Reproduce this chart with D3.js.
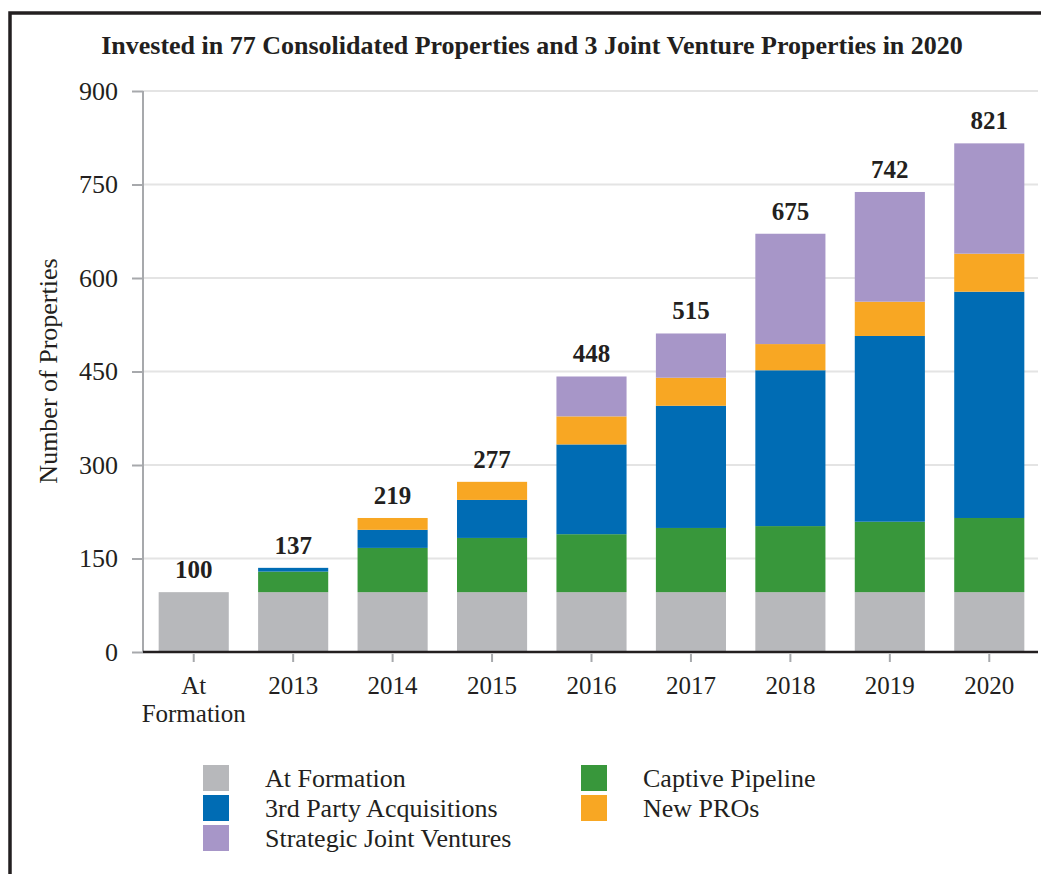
<!DOCTYPE html>
<html><head><meta charset="utf-8">
<script src="https://cdn.jsdelivr.net/npm/d3@7"></script>
<style>
body{margin:0;background:#fff;}
svg{display:block;font-family:"Liberation Serif","Times New Roman",serif;}
</style></head>
<body><svg id="c" width="1041" height="874"></svg>
<script>
const categories = ["At Formation","2013","2014","2015","2016","2017","2018","2019","2020"];
const seriesNames = ["At Formation","Captive Pipeline","3rd Party Acquisitions","New PROs","Strategic Joint Ventures"];
const atFormation = [96,96,96,96,96,96,96,96,96];
const captivePipeline = [0,33,71,87,93,103,106,113,119];
const thirdParty = [0,6,29,61,144,196,250,298,363];
const newPROs = [0,0,19,29,45,45,42,55,61];
const strategicJV = [0,0,0,0,64,71,177,176,177];
const totals = [100,137,219,277,448,515,675,742,821];
const yTicks = [0,150,300,450,600,750,900];
const colors = ["#b7b8bb","#38973b","#006cb4","#f8a723","#a796c8"];
const legendOrder = [[0,0],[2,0],[4,0],[1,1],[3,1]]; // [series index, column]

const svg = d3.select("#c");
const seriesData = [atFormation,captivePipeline,thirdParty,newPROs,strategicJV];
const rows = categories.map((c,i)=>{const o={cat:c};seriesNames.forEach((s,j)=>o[s]=seriesData[j][i]);return o;});

const x = d3.scaleBand().domain(categories).range([144,1039]).paddingInner(0.295).paddingOuter(0.1475);
const y = d3.scaleLinear().domain([0,900]).range([652,91]);

// border
svg.append("path").attr("d","M10,874V13H1041").attr("fill","none").attr("stroke","#231f20").attr("stroke-width",3.5);

// title
svg.append("text").attr("x",532).attr("y",54).attr("text-anchor","middle")
  .attr("font-weight","bold").attr("font-size",26).attr("fill","#231f20")
  .text("Invested in 77 Consolidated Properties and 3 Joint Venture Properties in 2020");

// gridlines
svg.append("g").selectAll("line").data(yTicks.filter(d=>d>0)).join("line")
  .attr("x1",143).attr("x2",1038).attr("y1",d=>y(d)).attr("y2",d=>y(d))
  .attr("stroke","#e4e4e4").attr("stroke-width",2);

// y axis
const gy = svg.append("g").attr("transform","translate(143,0)")
  .call(d3.axisLeft(y).tickValues(yTicks).tickSize(11).tickPadding(14).tickFormat(d3.format("d")));
gy.select(".domain").attr("stroke","#a7a9ac").attr("stroke-width",2).attr("d","M-0,"+y(900)+"V"+y(0));
gy.selectAll(".tick line").attr("stroke","#a7a9ac").attr("stroke-width",2);
gy.selectAll(".tick text").attr("font-size",26).attr("fill","#231f20").attr("font-family","Liberation Serif, serif");

// bars
const stack = d3.stack().keys(seriesNames)(rows);
svg.append("g").selectAll("g").data(stack).join("g").attr("fill",(d,i)=>colors[i])
  .selectAll("rect").data(d=>d).join("rect")
  .attr("x",d=>x(d.data.cat)).attr("width",x.bandwidth())
  .attr("y",d=>y(d[1])).attr("height",d=>y(d[0])-y(d[1]));

// x axis
const gx = svg.append("g").attr("transform","translate(0,"+y(0)+")")
  .call(d3.axisBottom(x).tickSize(10).tickFormat(""));
gx.select(".domain").attr("stroke","#231f20").attr("stroke-width",2.5).attr("d","M143,0H1038");
gx.selectAll(".tick line").attr("stroke","#a7a9ac").attr("stroke-width",2).attr("y1",2);
gx.selectAll(".tick").each(function(d){
  const parts = d==="At Formation" ? ["At","Formation"] : [d];
  const t = d3.select(this).append("text").attr("fill","#231f20").attr("font-size",25)
    .attr("font-family","Liberation Serif, serif").attr("text-anchor","middle");
  parts.forEach((p,i)=>t.append("tspan").attr("x",0).attr("y",42+i*28).text(p));
});

// total labels
svg.append("g").selectAll("text").data(categories).join("text")
  .attr("x",d=>x(d)+x.bandwidth()/2)
  .attr("y",(d,i)=>y(d3.sum(seriesData,s=>s[i]))-14)
  .attr("text-anchor","middle").attr("font-weight","bold").attr("font-size",25).attr("fill","#231f20")
  .text((d,i)=>totals[i]);

// y title
svg.append("text").attr("transform","translate(57,371) rotate(-90)").attr("text-anchor","middle")
  .attr("font-size",26).attr("fill","#231f20").text("Number of Properties");

// legend
const lg = svg.append("g");
const colX = [203,581], rowY = [765,795,825];
const rowCount=[0,0];
legendOrder.forEach(([si,col])=>{
  const r = rowCount[col]++;
  lg.append("rect").attr("x",colX[col]).attr("y",rowY[r]).attr("width",26).attr("height",26).attr("fill",colors[si]);
  lg.append("text").attr("x",colX[col]+62).attr("y",rowY[r]+22).attr("font-size",26).attr("fill","#231f20").text(seriesNames[si]);
});
</script></body></html>
